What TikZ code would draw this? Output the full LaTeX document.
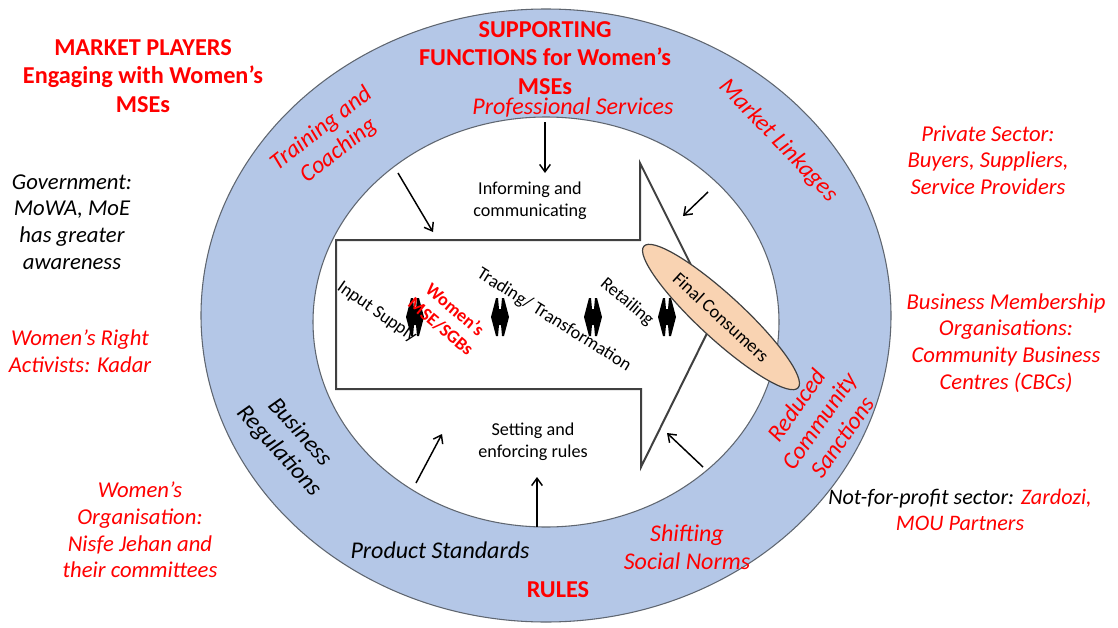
\documentclass[tikz,border=0pt]{standalone}
\usepackage{fontspec}
\setmainfont{Carlito}
\usetikzlibrary{arrows.meta,shapes.geometric}
\definecolor{ringblue}{HTML}{B4C7E7}
\definecolor{ringline}{HTML}{5F6670}
\definecolor{peach}{HTML}{F9D3B2}
\definecolor{myred}{HTML}{FF0000}
\definecolor{arrline}{HTML}{404040}
\tikzset{
  hdr/.style={font=\fontsize{18.2}{21.3}\selectfont\bfseries, text=myred, align=center, inner sep=0pt},
  lbl/.style={font=\fontsize{17}{20}\selectfont\itshape, align=center, inner sep=0pt},
  rlbl/.style={font=\fontsize{18}{21}\selectfont\itshape, align=center, inner sep=0pt},
  sm/.style={font=\fontsize{13.6}{16.5}\selectfont, align=center, inner sep=0pt},
  redtxt/.style={text=myred},
  ptr/.style={-{Straight Barb[length=5.5pt,width=8pt]}, line width=1.1pt, black},
  dbl/.pic={\fill[black] (-9,0) -- (-4,-19) -- (-2,-19) -- (-1,-8) -- (1,-8) -- (2,-19) -- (4,-19) -- (9,0) -- (4,19) -- (2,19) -- (1,8) -- (-1,8) -- (-2,19) -- (-4,19) -- cycle;}
}
\begin{document}
\begin{tikzpicture}[x=0.75pt,y=-0.75pt]
\useasboundingbox (0,0) rectangle (1118,628);
\fill[white] (0,0) rectangle (1118,628);
% ring
\draw[fill=ringblue, draw=ringline, line width=0.8pt] (546,315.5) ellipse [x radius=345, y radius=306.5];
\draw[fill=white, draw=ringline, line width=0.8pt] (546,322) ellipse [x radius=233, y radius=205];
% big arrow
\draw[fill=white, draw=arrline, line width=1.5pt, line join=miter] (336,240) -- (640,240) -- (640,163) -- (716,315) -- (641,467) -- (641,389) -- (336,389) -- cycle;
% double markers
\pic at (415,317) {dbl};
\pic at (500,317) {dbl};
\pic at (593,317) {dbl};
\pic at (667,317) {dbl};
% final consumers
\node[ellipse, draw=arrline, line width=0.9pt, fill=peach, minimum width=157pt, minimum height=33pt, rotate=-42.6, font=\fontsize{13.8}{16}\selectfont, inner sep=0pt] (fc) at (721,317) {Final Consumers};
% headings
\node[hdr] (mp) at (143,76) {MARKET PLAYERS\\Engaging with Women’s\\MSEs};
\node[hdr] (sf) at (545,58) {SUPPORTING\\FUNCTIONS for Women’s\\MSEs};
\node[hdr] (rules) at (558,590) {RULES};
% outside labels
\node[lbl] (gov) at (72,222) {Government:\\MoWA, MoE\\has greater\\awareness};
\node[lbl, redtxt] (wra) at (80,351) {Women’s Right\\Activists: Kadar};
\node[lbl, redtxt] (wo) at (140,530) {Women’s\\Organisation:\\Nisfe Jehan and\\their committees};
\node[lbl, redtxt] (ps) at (988,160) {Private Sector:\\Buyers, Suppliers,\\Service Providers};
\node[lbl, redtxt] (bmo) at (1006,343) {Business Membership\\Organisations:\\Community Business\\Centres (CBCs)};
\node[lbl, font=\fontsize{16.6}{20}\selectfont\itshape] (nfp) at (960,510) {Not-for-profit sector: \textcolor{myred}{Zardozi,}\\\textcolor{myred}{MOU Partners}};
% ring labels
\node[rlbl, redtxt] (prof) at (573,108) {Professional Services};
\node[rlbl, redtxt, rotate=38] (tc) at (330,140) {Training and\\Coaching};
\node[rlbl, redtxt, rotate=-46] (ml) at (778,141) {Market Linkages};
\node[rlbl, rotate=-48] (br) at (289,442) {Business\\Regulations};
\node[rlbl] (pstd) at (440,550) {Product Standards};
\node[rlbl, redtxt] (ssn) at (687,547) {Shifting\\Social Norms};
\node[rlbl, redtxt, rotate=55] (rcs) at (819,421) {Reduced\\Community\\Sanctions};
% inner labels
\node[sm] (ic) at (530,201) {Informing and\\communicating};
\node[sm] (ser) at (533,442) {Setting and\\enforcing rules};
\node[sm, rotate=-35] (is) at (377,312) {Input Supply};
\node[sm, font=\fontsize{13.6}{16.5}\selectfont\bfseries, redtxt, rotate=-40] (wmse) at (448,318) {Women’s\\MSE/SGBs};
\node[sm, rotate=-32] (tt) at (554,320) {Trading/ Transformation};
\node[sm, rotate=-40] (ret) at (627,302) {Retailing};
% pointer arrows
\coordinate (p1s) at (545,122); \coordinate (p1e) at (545,173);
\coordinate (p2s) at (398,173); \coordinate (p2e) at (433,232);
\coordinate (p3s) at (708,192); \coordinate (p3e) at (683,216);
\coordinate (p4s) at (416,483); \coordinate (p4e) at (442,434);
\coordinate (p5s) at (537,527); \coordinate (p5e) at (537,477);
\coordinate (p6s) at (703,467); \coordinate (p6e) at (667,433);
\draw[ptr] (p1s) -- (p1e);
\draw[ptr] (p2s) -- (p2e);
\draw[ptr] (p3s) -- (p3e);
\draw[ptr] (p4s) -- (p4e);
\draw[ptr] (p5s) -- (p5e);
\draw[ptr] (p6s) -- (p6e);
\end{tikzpicture}
\end{document}
